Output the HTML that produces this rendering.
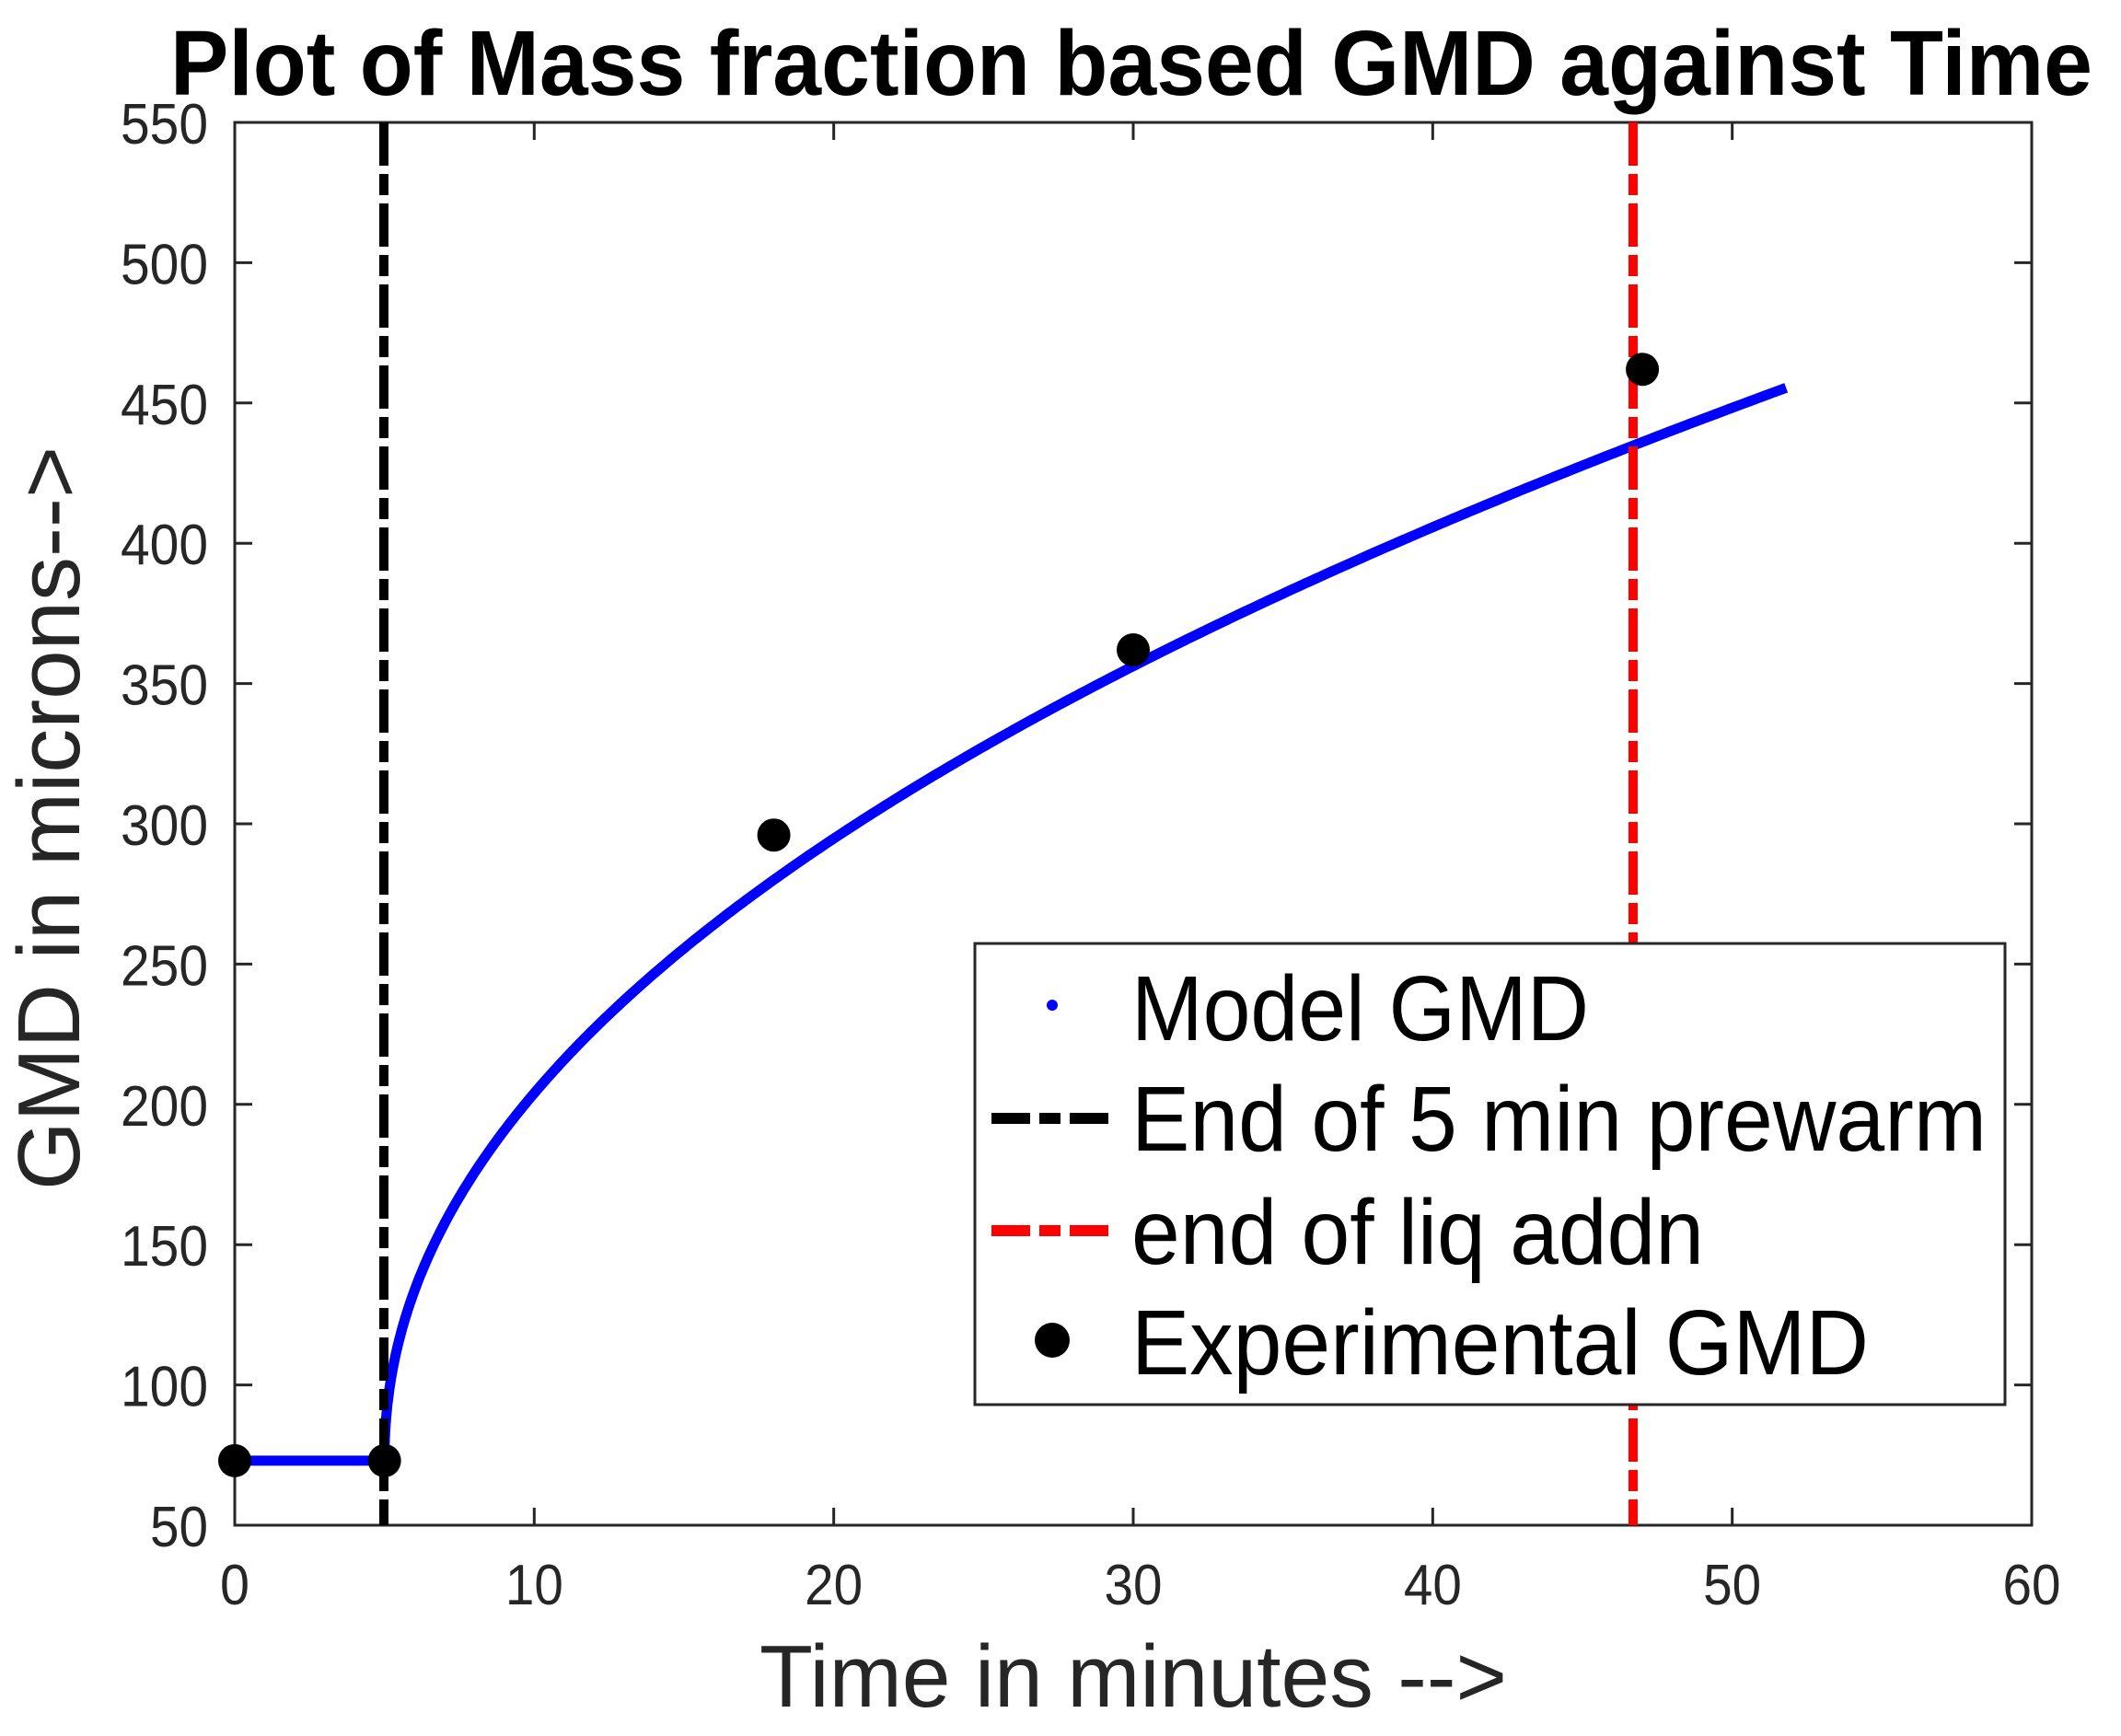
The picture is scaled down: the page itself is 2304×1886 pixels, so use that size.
<!DOCTYPE html>
<html><head><meta charset="utf-8"><style>html,body{margin:0;padding:0;background:#fff}svg{display:block}</style></head>
<body>
<svg id="s" width="2304" height="1886" xmlns="http://www.w3.org/2000/svg" font-family="Liberation Sans, Arial, sans-serif">
<rect width="2304" height="1886" fill="#fff"/>
<text x="1229" y="103" text-anchor="middle" font-size="100" font-weight="bold" textLength="2088" lengthAdjust="spacingAndGlyphs">Plot of Mass fraction based GMD against Time</text>
<g id="ticks" stroke="#262626" stroke-width="3"></g>
<g id="labels" fill="#262626" font-size="62"></g>
<rect x="255" y="133" width="1952" height="1524" fill="none" stroke="#262626" stroke-width="3"/>
<path id="curve" fill="none" stroke="#0000ff" stroke-width="11" stroke-linejoin="round"/>
<line x1="417" y1="133" x2="417" y2="1657" stroke="#000" stroke-width="10" stroke-dasharray="47 9 23 9"/>
<line x1="1774" y1="133" x2="1774" y2="1657" stroke="#ff0000" stroke-width="10" stroke-dasharray="47 9 23 9"/>
<g id="pts" fill="#000"></g>
<rect x="1059" y="1025" width="1119" height="501" fill="#fff" stroke="#262626" stroke-width="3"/>
<circle cx="1143" cy="1092" r="6" fill="#0000ff"/>
<line x1="1077" y1="1215" x2="1208" y2="1215" stroke="#000" stroke-width="12" stroke-dasharray="42 10 23 10"/>
<line x1="1077" y1="1337" x2="1208" y2="1337" stroke="#ff0000" stroke-width="12" stroke-dasharray="42 10 23 10"/>
<circle cx="1143" cy="1456" r="19" fill="#000"/>
<g font-size="100" fill="#000">
<text x="1229" y="1130" textLength="497" lengthAdjust="spacingAndGlyphs">Model GMD</text>
<text x="1229" y="1250" textLength="929" lengthAdjust="spacingAndGlyphs">End of 5 min prewarm</text>
<text x="1229" y="1373" textLength="622" lengthAdjust="spacingAndGlyphs">end of liq addn</text>
<text x="1229" y="1493" textLength="801" lengthAdjust="spacingAndGlyphs">Experimental GMD</text>
</g>
<text x="1231" y="1854" text-anchor="middle" font-size="96" fill="#262626" textLength="812" lengthAdjust="spacingAndGlyphs">Time in minutes --&gt;</text>
<text transform="translate(86,889) rotate(-90)" text-anchor="middle" font-size="96" fill="#262626" textLength="808" lengthAdjust="spacingAndGlyphs">GMD in microns--&gt;</text>
</svg>
<script>
var L=255,R=2207,T=133,B=1657;
function X(t){return L+(t/60)*(R-L);} function Y(v){return B-(v-50)/500*(B-T);}
var NS="http://www.w3.org/2000/svg",tk=document.getElementById('ticks'),lb=document.getElementById('labels');
function el(p,n,a,txt){var e=document.createElementNS(NS,n);for(var k in a)e.setAttribute(k,a[k]);if(txt)e.textContent=txt;p.appendChild(e);}
function tl(s){return (s.length*31.5).toFixed(0);}
for(var t=0;t<=60;t+=10){var x=X(t);el(tk,'line',{x1:x,y1:B,x2:x,y2:B-19});el(tk,'line',{x1:x,y1:T,x2:x,y2:T+19});el(lb,'text',{x:x,y:1743,'text-anchor':'middle',textLength:tl(''+t),lengthAdjust:'spacingAndGlyphs'},''+t);}
for(var v=50;v<=550;v+=50){var y=Y(v);el(tk,'line',{x1:L,y1:y,x2:L+19,y2:y});el(tk,'line',{x1:R,y1:y,x2:R-19,y2:y});el(lb,'text',{x:226,y:y+23,'text-anchor':'end',textLength:tl(''+v),lengthAdjust:'spacingAndGlyphs'},''+v);}
var d='M'+X(0)+' '+Y(73)+' L'+X(5)+' '+Y(73);
for(var i=1;i<=400;i++){var t=5+46.8*Math.pow(i/400,2);d+=' L'+X(t).toFixed(1)+' '+Y(73+60.6*Math.pow(t-5,0.479)).toFixed(1);}
document.getElementById('curve').setAttribute('d',d);
var P=[[0,73],[5,73],[18,296],[30,362],[47,462]],pg=document.getElementById('pts');
P.forEach(function(p){el(pg,'circle',{cx:X(p[0]),cy:Y(p[1]),r:18});});
</script>
</body></html>
